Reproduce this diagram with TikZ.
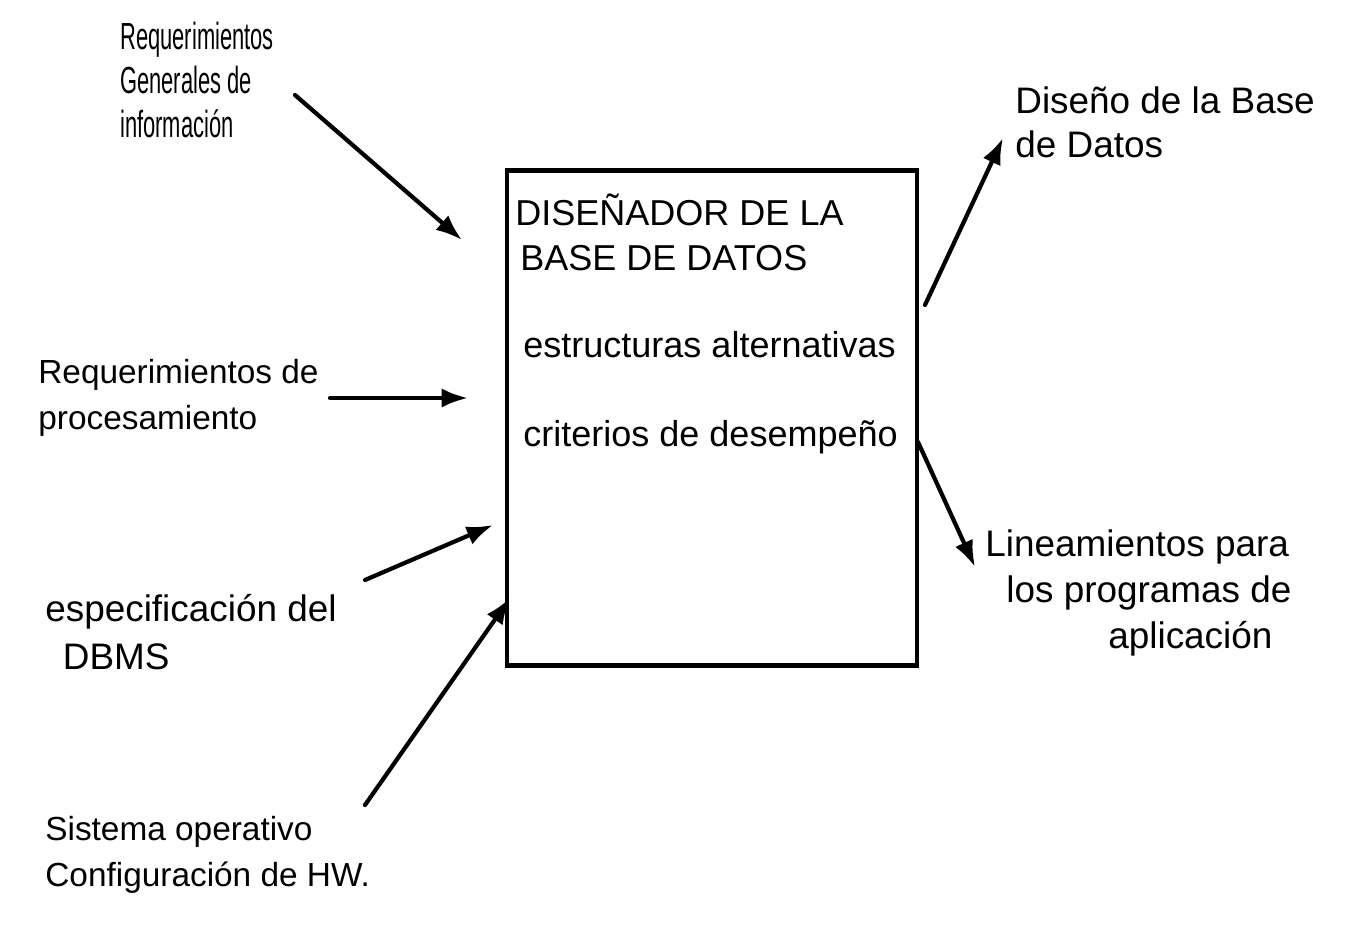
\documentclass[tikz,border=0pt]{standalone}
\usepackage{fontspec}
\setmainfont{Liberation Sans}
\newfontfamily\narrowsans[FakeStretch=0.58]{Liberation Sans}
\usetikzlibrary{arrows.meta}
\begin{document}
\begin{tikzpicture}[x=0.02cm,y=-0.02cm,
  lbl/.style={anchor=west, align=left, inner sep=0pt,
              font=\fontsize{19}{26}\selectfont},
  boxtxt/.style={anchor=west, inner sep=0pt, font=\fontsize{20.5}{24}\selectfont},
  arr/.style={line width=2.4pt, line cap=round,
              -{Latex[length=15pt,width=11pt]}}]
\useasboundingbox (0,0) rectangle (1364,926);

% central process box
\node (box) [draw, line width=2.4pt, minimum width=8.2cm, minimum height=9.9cm,
             inner sep=0pt] at (712,418) {};
\node (t1) [boxtxt] at (515,210) {DISEÑADOR DE LA};
\node (t2) [boxtxt] at (520,258) {BASE DE DATOS};
\node (t3) [boxtxt] at (523,345) {estructuras alternativas};
\node (t4) [boxtxt] at (523,437) {criterios de desempeño};

% inputs
\node (in1) [lbl, font=\narrowsans\fontsize{21.5}{25}\selectfont] at (120,80)
  {Requerimientos\\Generales de\\información};
\node (in2) [lbl] at (38,398) {Requerimientos de\\procesamiento};
\node (in3) [lbl, font=\fontsize{21}{27}\selectfont] at (45,632)
  {especificación del\\\hspace*{10pt}DBMS};
\node (in4) [lbl] at (45,855) {Sistema operativo\\Configuración de HW.};

% outputs
\node (out1) [lbl, font=\fontsize{21}{25}\selectfont] at (1015,122)
  {Diseño de la Base\\de Datos};
\node (out2) [lbl, font=\fontsize{21}{26}\selectfont] at (985,593)
  {Lineamientos para\\\hspace*{12pt}los programas de\\\hspace*{70pt}aplicación};

% connector end points
\coordinate (a1s) at (295,95);   \coordinate (a1e) at (462,240);
\coordinate (a2s) at (330,398);  \coordinate (a2e) at (468,398);
\coordinate (a3s) at (365,580);  \coordinate (a3e) at (493,525);
\coordinate (a4s) at (365,805);  \coordinate (a4e) at (510,598);
\coordinate (a5s) at (925,305);  \coordinate (a5e) at (1003,138);
\coordinate (a6s) at (918,442);  \coordinate (a6e) at (975,567);

\draw[arr] (a1s) -- (a1e);
\draw[arr] (a2s) -- (a2e);
\draw[arr] (a3s) -- (a3e);
\draw[arr] (a4s) -- (a4e);
\draw[arr] (a5s) -- (a5e);
\draw[arr] (a6s) -- (a6e);
\end{tikzpicture}
\end{document}
